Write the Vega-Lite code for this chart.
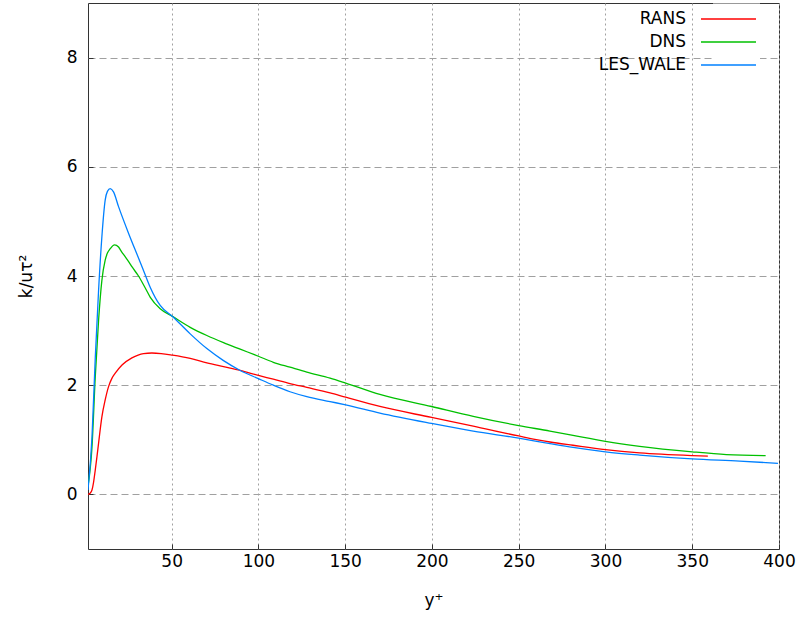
{
  "$schema": "https://vega.github.io/schema/vega-lite/v6.json",
  "width": 691,
  "height": 546,
  "autosize": {"type": "none"},
  "padding": {"left": 88, "top": 3, "right": 26, "bottom": 69},
  "background": "white",
  "config": {
    "font": "DejaVu Sans",
    "view": {"stroke": "#333333", "strokeWidth": 1},
    "axis": {
      "domain": false,
      "ticks": true,
      "tickSize": -5,
      "tickColor": "#333333",
      "gridColor": "#a0a0a0",
      "gridOpacity": 1,
      "gridWidth": 1,
      "labelFont": "DejaVu Sans",
      "labelFontSize": 17,
      "labelColor": "#000000",
      "labelFlush": false,
      "titleFont": "DejaVu Sans",
      "titleFontSize": 17,
      "titleFontWeight": "normal",
      "titleColor": "#000000"
    },
    "axisX": {"gridDash": [2, 3], "labelPadding": 9, "titlePadding": 23},
    "axisY": {"gridDash": [7, 4], "labelPadding": 16, "titlePadding": 31},
    "legend": {
      "orient": "none",
      "legendX": 625,
      "legendY": 0.5,
      "symbolType": "M-2,0H2",
      "symbolSize": 756,
      "symbolStrokeWidth": 1.5,
      "rowPadding": 0,
      "labelAlign": "right",
      "labelOffset": -57,
      "labelFont": "DejaVu Sans",
      "labelFontSize": 17,
      "labelColor": "#000000",
      "fillColor": "white",
      "padding": 1,
      "labelLimit": 300
    }
  },
  "data": {
    "values": [
      {"series": "RANS", "yp": 1.8, "k": 0.0},
      {"series": "RANS", "yp": 3.0, "k": 0.02},
      {"series": "RANS", "yp": 4.1, "k": 0.08},
      {"series": "RANS", "yp": 5.0, "k": 0.22},
      {"series": "RANS", "yp": 6.0, "k": 0.45},
      {"series": "RANS", "yp": 7.0, "k": 0.7},
      {"series": "RANS", "yp": 7.9, "k": 0.94},
      {"series": "RANS", "yp": 9.8, "k": 1.42},
      {"series": "RANS", "yp": 11.7, "k": 1.73},
      {"series": "RANS", "yp": 13.6, "k": 1.97},
      {"series": "RANS", "yp": 15.5, "k": 2.12},
      {"series": "RANS", "yp": 17.5, "k": 2.22},
      {"series": "RANS", "yp": 21.4, "k": 2.37},
      {"series": "RANS", "yp": 27.1, "k": 2.5},
      {"series": "RANS", "yp": 33.8, "k": 2.58},
      {"series": "RANS", "yp": 38.6, "k": 2.59},
      {"series": "RANS", "yp": 44.0, "k": 2.58},
      {"series": "RANS", "yp": 50.5, "k": 2.55},
      {"series": "RANS", "yp": 60.7, "k": 2.49},
      {"series": "RANS", "yp": 70.3, "k": 2.41},
      {"series": "RANS", "yp": 79.9, "k": 2.34},
      {"series": "RANS", "yp": 89.5, "k": 2.27},
      {"series": "RANS", "yp": 100.0, "k": 2.18},
      {"series": "RANS", "yp": 108.6, "k": 2.11},
      {"series": "RANS", "yp": 118.2, "k": 2.03},
      {"series": "RANS", "yp": 127.9, "k": 1.96},
      {"series": "RANS", "yp": 141.3, "k": 1.86},
      {"series": "RANS", "yp": 150.3, "k": 1.78},
      {"series": "RANS", "yp": 170.0, "k": 1.61},
      {"series": "RANS", "yp": 199.8, "k": 1.41},
      {"series": "RANS", "yp": 223.8, "k": 1.25},
      {"series": "RANS", "yp": 250.0, "k": 1.07},
      {"series": "RANS", "yp": 268.0, "k": 0.96},
      {"series": "RANS", "yp": 281.3, "k": 0.9},
      {"series": "RANS", "yp": 300.0, "k": 0.82},
      {"series": "RANS", "yp": 319.7, "k": 0.76},
      {"series": "RANS", "yp": 350.0, "k": 0.71},
      {"series": "RANS", "yp": 359.0, "k": 0.7},
      {"series": "DNS", "yp": 1.8, "k": 0.15},
      {"series": "DNS", "yp": 4.1, "k": 0.87},
      {"series": "DNS", "yp": 6.0, "k": 2.16},
      {"series": "DNS", "yp": 7.9, "k": 3.19},
      {"series": "DNS", "yp": 9.8, "k": 3.92},
      {"series": "DNS", "yp": 11.7, "k": 4.29},
      {"series": "DNS", "yp": 13.0, "k": 4.42},
      {"series": "DNS", "yp": 14.6, "k": 4.5},
      {"series": "DNS", "yp": 17.1, "k": 4.57},
      {"series": "DNS", "yp": 19.4, "k": 4.53},
      {"series": "DNS", "yp": 21.0, "k": 4.45},
      {"series": "DNS", "yp": 23.3, "k": 4.35},
      {"series": "DNS", "yp": 25.5, "k": 4.25},
      {"series": "DNS", "yp": 27.1, "k": 4.17},
      {"series": "DNS", "yp": 30.9, "k": 4.0},
      {"series": "DNS", "yp": 34.8, "k": 3.78},
      {"series": "DNS", "yp": 37.7, "k": 3.61},
      {"series": "DNS", "yp": 43.4, "k": 3.4},
      {"series": "DNS", "yp": 50.5, "k": 3.26},
      {"series": "DNS", "yp": 60.7, "k": 3.06},
      {"series": "DNS", "yp": 70.3, "k": 2.91},
      {"series": "DNS", "yp": 79.9, "k": 2.78},
      {"series": "DNS", "yp": 89.5, "k": 2.66},
      {"series": "DNS", "yp": 100.0, "k": 2.53},
      {"series": "DNS", "yp": 108.6, "k": 2.42},
      {"series": "DNS", "yp": 118.2, "k": 2.33},
      {"series": "DNS", "yp": 127.9, "k": 2.24},
      {"series": "DNS", "yp": 141.3, "k": 2.13},
      {"series": "DNS", "yp": 150.3, "k": 2.04},
      {"series": "DNS", "yp": 170.0, "k": 1.83},
      {"series": "DNS", "yp": 199.8, "k": 1.61},
      {"series": "DNS", "yp": 223.8, "k": 1.43},
      {"series": "DNS", "yp": 250.0, "k": 1.26},
      {"series": "DNS", "yp": 268.0, "k": 1.16},
      {"series": "DNS", "yp": 281.3, "k": 1.08},
      {"series": "DNS", "yp": 300.0, "k": 0.97},
      {"series": "DNS", "yp": 319.7, "k": 0.88},
      {"series": "DNS", "yp": 350.0, "k": 0.78},
      {"series": "DNS", "yp": 369.7, "k": 0.73},
      {"series": "DNS", "yp": 392.3, "k": 0.71},
      {"series": "LES_WALE", "yp": 1.8, "k": 0.08},
      {"series": "LES_WALE", "yp": 4.1, "k": 1.05},
      {"series": "LES_WALE", "yp": 6.0, "k": 2.51},
      {"series": "LES_WALE", "yp": 7.9, "k": 3.74},
      {"series": "LES_WALE", "yp": 9.8, "k": 4.72},
      {"series": "LES_WALE", "yp": 11.7, "k": 5.39},
      {"series": "LES_WALE", "yp": 13.0, "k": 5.55},
      {"series": "LES_WALE", "yp": 14.6, "k": 5.6},
      {"series": "LES_WALE", "yp": 16.5, "k": 5.54},
      {"series": "LES_WALE", "yp": 19.4, "k": 5.27},
      {"series": "LES_WALE", "yp": 25.2, "k": 4.78},
      {"series": "LES_WALE", "yp": 30.9, "k": 4.33},
      {"series": "LES_WALE", "yp": 34.8, "k": 4.02},
      {"series": "LES_WALE", "yp": 37.7, "k": 3.79},
      {"series": "LES_WALE", "yp": 43.4, "k": 3.46},
      {"series": "LES_WALE", "yp": 50.5, "k": 3.26},
      {"series": "LES_WALE", "yp": 60.7, "k": 2.94},
      {"series": "LES_WALE", "yp": 70.3, "k": 2.67},
      {"series": "LES_WALE", "yp": 79.9, "k": 2.45},
      {"series": "LES_WALE", "yp": 89.5, "k": 2.27},
      {"series": "LES_WALE", "yp": 100.0, "k": 2.12},
      {"series": "LES_WALE", "yp": 108.6, "k": 2.0},
      {"series": "LES_WALE", "yp": 118.2, "k": 1.88},
      {"series": "LES_WALE", "yp": 127.9, "k": 1.79},
      {"series": "LES_WALE", "yp": 141.3, "k": 1.7},
      {"series": "LES_WALE", "yp": 150.3, "k": 1.64},
      {"series": "LES_WALE", "yp": 170.0, "k": 1.49},
      {"series": "LES_WALE", "yp": 199.8, "k": 1.3},
      {"series": "LES_WALE", "yp": 223.8, "k": 1.16},
      {"series": "LES_WALE", "yp": 250.0, "k": 1.03},
      {"series": "LES_WALE", "yp": 268.0, "k": 0.93},
      {"series": "LES_WALE", "yp": 281.3, "k": 0.86},
      {"series": "LES_WALE", "yp": 300.0, "k": 0.78},
      {"series": "LES_WALE", "yp": 319.7, "k": 0.72},
      {"series": "LES_WALE", "yp": 350.0, "k": 0.65},
      {"series": "LES_WALE", "yp": 377.3, "k": 0.61},
      {"series": "LES_WALE", "yp": 399.4, "k": 0.57}
    ]
  },
  "mark": {"type": "line", "strokeWidth": 1.3, "interpolate": "monotone", "clip": true},
  "encoding": {
    "x": {
      "field": "yp",
      "type": "quantitative",
      "scale": {"domain": [1.8, 400], "nice": false, "zero": false},
      "axis": {"title": "y⁺", "values": [50, 100, 150, 200, 250, 300, 350, 400], "grid": true}
    },
    "y": {
      "field": "k",
      "type": "quantitative",
      "scale": {"domain": [-1, 9], "nice": false},
      "axis": {"title": "k/uτ²", "values": [0, 2, 4, 6, 8], "grid": true}
    },
    "color": {
      "field": "series",
      "type": "nominal",
      "sort": ["RANS", "DNS", "LES_WALE"],
      "scale": {"domain": ["RANS", "DNS", "LES_WALE"], "range": ["#ff0000", "#00c000", "#0080ff"]},
      "legend": {"title": null}
    },
    "order": {"field": "yp", "type": "quantitative"}
  }
}
